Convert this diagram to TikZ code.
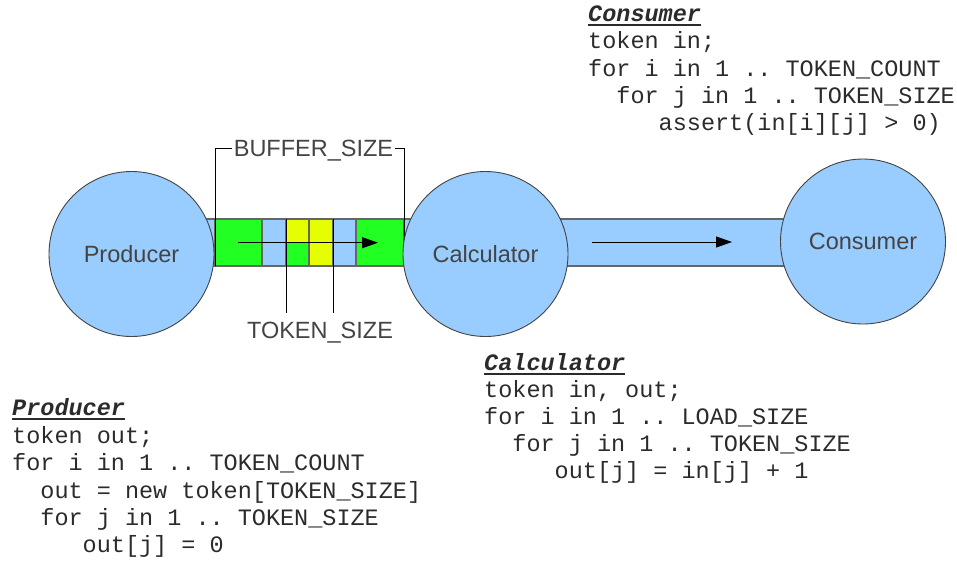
\documentclass[tikz,border=0pt]{standalone}
\usepackage{fontspec}
\setmainfont{Liberation Sans}
\newfontfamily\codefont{Liberation Mono}
\usetikzlibrary{arrows.meta,calc}
\definecolor{pipeblue}{HTML}{99CCFF}
\definecolor{bufgreen}{HTML}{22FF22}
\definecolor{bufyellow}{HTML}{E6FF00}
\definecolor{edgegray}{HTML}{666666}
\definecolor{circgray}{HTML}{444444}
\definecolor{labelgray}{HTML}{444444}
\definecolor{codegray}{HTML}{2B2B2B}
\tikzset{
  pipe/.style={fill=pipeblue, draw=edgegray, line width=1.5pt},
  cellline/.style={draw=edgegray, line width=1.5pt},
  proc/.style={circle, minimum size=165pt, inner sep=0pt, fill=pipeblue, draw=circgray, line width=0.9pt,
    text=labelgray, font=\fontsize{23.5}{28}\selectfont},
  lbl/.style={text=labelgray, font=\fontsize{23.5}{28}\selectfont, anchor=base, inner sep=0pt},
  thinline/.style={draw=black, line width=1pt},
  flow/.style={draw=black, line width=1pt, -{Triangle[length=16pt,width=11pt]}},
  code/.style={font=\codefont\frenchspacing\fontsize{23.5}{27}\selectfont, text=codegray, anchor=base west, inner sep=0pt},
  codetitle/.style={code, font=\codefont\frenchspacing\fontsize{23.5}{27}\selectfont\bfseries\itshape},
  uline/.style={draw=codegray, line width=2pt}
}
\begin{document}
\begin{tikzpicture}[x=1pt,y=-1pt]
\useasboundingbox (0,0) rectangle (957,560);

% pipes
\draw[pipe] (131.5,219) rectangle (485.5,266);
\draw[pipe] (485.5,219) rectangle (863,266);

% buffer cells
\fill[bufgreen] (215,219) rectangle (262,266);
\fill[pipeblue] (262,219) rectangle (286,266);
\fill[bufyellow] (286,219) rectangle (309,242.5);
\fill[bufgreen] (286,242.5) rectangle (309,266);
\fill[bufyellow] (309,219) rectangle (333,266);
\fill[pipeblue] (333,219) rectangle (356,266);
\fill[bufgreen] (356,219) rectangle (404,266);
\draw[cellline] (215,219) rectangle (404,266);
\foreach \cx in {262,286,309,333,356} { \draw[cellline] (\cx,219) -- (\cx,266); }

% coordinates for brackets
\coordinate (bufBL) at (215,266);
\coordinate (bufBR) at (404,266);
\coordinate (brL) at (215,148);
\coordinate (brR) at (404,148);
\coordinate (brLi) at (232,148);
\coordinate (brRi) at (395,148);
\coordinate (tk1top) at (286,219);
\coordinate (tk1bot) at (286,313);
\coordinate (tk2top) at (333,219);
\coordinate (tk2bot) at (333,313);

% BUFFER_SIZE bracket
\node[lbl] (bs) at (313.5,156) {BUFFER\_SIZE};
\draw[thinline] (bufBL) -- (brL) -- (brLi);
\draw[thinline] (bufBR) -- (brR) -- (brRi);

% TOKEN_SIZE lines
\node[lbl] (ts) at (320,338) {TOKEN\_SIZE};
\draw[thinline] (tk1top) -- (tk1bot);
\draw[thinline] (tk2top) -- (tk2bot);

% processes
\node[proc] (prod) at (131.5,254) {Producer};
\node[proc] (calc) at (485.5,254) {Calculator};
\node[proc] (cons) at (863,241.5) {Consumer};

% flow arrows
\coordinate (a1s) at (238,242.7);
\coordinate (a1e) at (378,242.7);
\coordinate (a2s) at (592,242);
\coordinate (a2e) at (732,242);
\draw[flow] (a1s) -- (a1e);
\draw[flow] (a2s) -- (a2e);

% Consumer code
\node[codetitle] (ct) at (588,21) {Consumer};
\draw[uline] ($(ct.base west)+(0,4)$) -- ($(ct.base east)+(0,4)$);
\node[code] (c1) at (588,48) {token in;};
\node[code] (c2) at (588,76) {for i in 1 .. TOKEN\_COUNT};
\node[code] (c3) at (616.2,103) {for j in 1 .. TOKEN\_SIZE};
\node[code] (c4) at (658.5,130) {assert(in[i][j] > 0)};

% Calculator code
\node[codetitle] (kt) at (484,370) {Calculator};
\draw[uline] ($(kt.base west)+(0,4)$) -- ($(kt.base east)+(0,4)$);
\node[code] (k1) at (484,397) {token in, out;};
\node[code] (k2) at (484,424) {for i in 1 .. LOAD\_SIZE};
\node[code] (k3) at (512.2,451) {for j in 1 .. TOKEN\_SIZE};
\node[code] (k4) at (554.5,478) {out[j] = in[j] + 1};

% Producer code
\node[codetitle] (pt) at (12,415) {Producer};
\draw[uline] ($(pt.base west)+(0,4)$) -- ($(pt.base east)+(0,4)$);
\node[code] (p1) at (12,443) {token out;};
\node[code] (p2) at (12,470) {for i in 1 .. TOKEN\_COUNT};
\node[code] (p3) at (40.2,498) {out = new token[TOKEN\_SIZE]};
\node[code] (p4) at (40.2,525) {for j in 1 .. TOKEN\_SIZE};
\node[code] (p5) at (82.5,552) {out[j] = 0};
\end{tikzpicture}
\end{document}
